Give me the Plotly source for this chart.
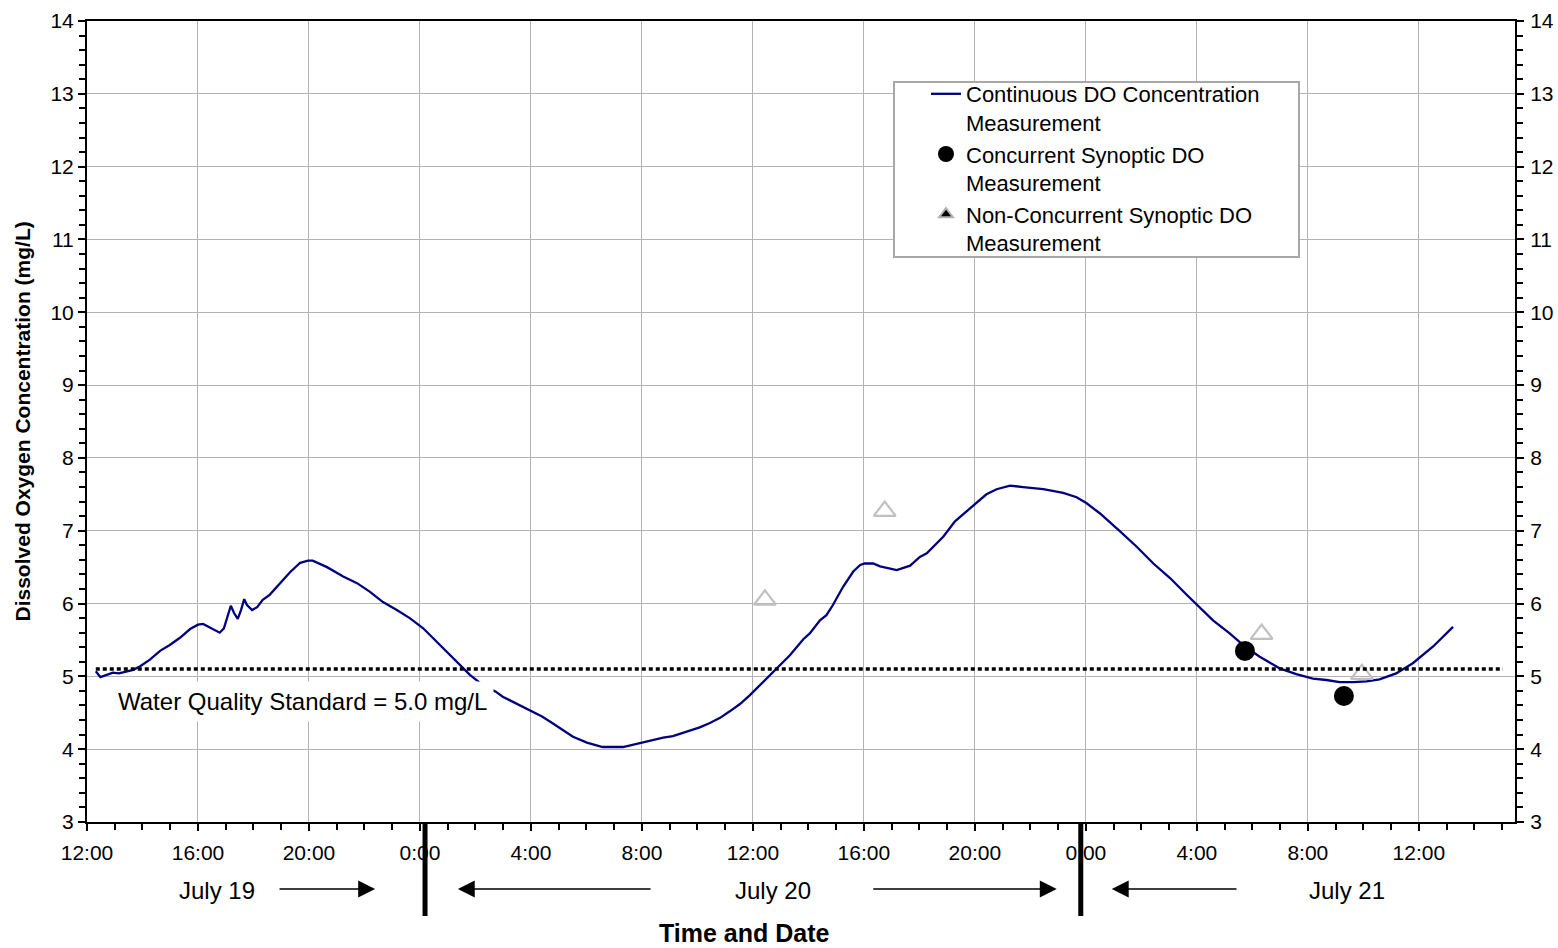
import plotly.graph_objects as go
from datetime import datetime

# ---------------- data ----------------
do_times = [
    "2007-07-19 12:19", "2007-07-19 12:29", "2007-07-19 12:56", "2007-07-19 13:09", "2007-07-19 13:40",
    "2007-07-19 13:55", "2007-07-19 14:16", "2007-07-19 14:38", "2007-07-19 14:59", "2007-07-19 15:21",
    "2007-07-19 15:43", "2007-07-19 16:00", "2007-07-19 16:11", "2007-07-19 16:30", "2007-07-19 16:47",
    "2007-07-19 16:56", "2007-07-19 17:03", "2007-07-19 17:11", "2007-07-19 17:18", "2007-07-19 17:26",
    "2007-07-19 17:33", "2007-07-19 17:40", "2007-07-19 17:46", "2007-07-19 17:57", "2007-07-19 18:08",
    "2007-07-19 18:20", "2007-07-19 18:35", "2007-07-19 18:57", "2007-07-19 19:19", "2007-07-19 19:41",
    "2007-07-19 19:58", "2007-07-19 20:08", "2007-07-19 20:39", "2007-07-19 21:14", "2007-07-19 21:44",
    "2007-07-19 22:12", "2007-07-19 22:40", "2007-07-19 23:10", "2007-07-19 23:38",
    "2007-07-20 00:07", "2007-07-20 00:43", "2007-07-20 01:20", "2007-07-20 01:48", "2007-07-20 02:16",
    "2007-07-20 02:44", "2007-07-20 02:59", "2007-07-20 03:21", "2007-07-20 03:43", "2007-07-20 04:02",
    "2007-07-20 04:24", "2007-07-20 04:46", "2007-07-20 05:07", "2007-07-20 05:31", "2007-07-20 06:01",
    "2007-07-20 06:35", "2007-07-20 07:19", "2007-07-20 07:45", "2007-07-20 08:17", "2007-07-20 08:46",
    "2007-07-20 09:07", "2007-07-20 09:37", "2007-07-20 10:05", "2007-07-20 10:27", "2007-07-20 10:49",
    "2007-07-20 11:10", "2007-07-20 11:32", "2007-07-20 11:53", "2007-07-20 12:15", "2007-07-20 12:37",
    "2007-07-20 12:52", "2007-07-20 13:20", "2007-07-20 13:49", "2007-07-20 14:03", "2007-07-20 14:25",
    "2007-07-20 14:39", "2007-07-20 14:53", "2007-07-20 15:15", "2007-07-20 15:37", "2007-07-20 15:52",
    "2007-07-20 16:02", "2007-07-20 16:20", "2007-07-20 16:35", "2007-07-20 16:53", "2007-07-20 17:11",
    "2007-07-20 17:40", "2007-07-20 18:01", "2007-07-20 18:16", "2007-07-20 18:52", "2007-07-20 19:17",
    "2007-07-20 19:56", "2007-07-20 20:25", "2007-07-20 20:47", "2007-07-20 21:16", "2007-07-20 21:44",
    "2007-07-20 22:28", "2007-07-20 23:11", "2007-07-20 23:40",
    "2007-07-21 00:01", "2007-07-21 00:30", "2007-07-21 01:14", "2007-07-21 01:50", "2007-07-21 02:26",
    "2007-07-21 03:02", "2007-07-21 03:38", "2007-07-21 04:07", "2007-07-21 04:35", "2007-07-21 05:11",
    "2007-07-21 05:44", "2007-07-21 06:16", "2007-07-21 06:59", "2007-07-21 07:35", "2007-07-21 08:11",
    "2007-07-21 08:40", "2007-07-21 09:09", "2007-07-21 09:38", "2007-07-21 10:07", "2007-07-21 10:35",
    "2007-07-21 11:11", "2007-07-21 11:47", "2007-07-21 12:31", "2007-07-21 13:14",
]
do_values = [
    5.07, 4.99, 5.05, 5.04, 5.09,
    5.14, 5.23, 5.35, 5.43, 5.53,
    5.65, 5.71, 5.72, 5.66, 5.60,
    5.66, 5.82, 5.97, 5.87, 5.79,
    5.91, 6.06, 5.98, 5.91, 5.95,
    6.05, 6.12, 6.28, 6.43, 6.56,
    6.59, 6.59, 6.50, 6.37, 6.28,
    6.16, 6.02, 5.91, 5.80,
    5.66, 5.43, 5.20, 5.02, 4.88,
    4.79, 4.72, 4.65, 4.57, 4.52,
    4.45, 4.36, 4.27, 4.17, 4.09,
    4.03, 4.03, 4.07, 4.11, 4.16,
    4.18, 4.24, 4.30, 4.36, 4.43,
    4.52, 4.62, 4.74, 4.88, 5.02,
    5.11, 5.29, 5.51, 5.59, 5.77,
    5.84, 5.98, 6.23, 6.44, 6.53,
    6.55, 6.55, 6.51, 6.48, 6.46,
    6.52, 6.64, 6.69, 6.92, 7.13,
    7.35, 7.50, 7.57, 7.62, 7.60,
    7.57, 7.52, 7.46,
    7.38, 7.24, 6.99, 6.78, 6.55,
    6.35, 6.12, 5.94, 5.77, 5.59,
    5.41, 5.27, 5.11, 5.03, 4.97,
    4.95, 4.92, 4.92, 4.93, 4.96,
    5.04, 5.18, 5.41, 5.68,
]

concurrent_times = ["2007-07-21 05:44", "2007-07-21 09:18"]
concurrent_values = [5.35, 4.73]

nonconcurrent_times = ["2007-07-20 12:26", "2007-07-20 16:45", "2007-07-21 06:20", "2007-07-21 09:57"]
nonconcurrent_values = [6.05, 7.27, 5.58, 5.03]

standard_times = ["2007-07-19 12:19", "2007-07-21 15:02"]
standard_values = [5.1, 5.1]

day_breaks = ["2007-07-20 00:11", "2007-07-20 23:49"]
day_labels = ["July 19", "July 20", "July 21"]
day_label_times = ["2007-07-19 16:41", "2007-07-20 12:43", "2007-07-21 09:25"]
# arrows: (tail, tip)
day_arrows = [
    ("2007-07-19 18:53", "2007-07-19 22:23"),
    ("2007-07-20 08:22", "2007-07-20 01:22"),
    ("2007-07-20 16:17", "2007-07-20 22:57"),
    ("2007-07-21 05:29", "2007-07-21 00:56"),
]

X_START = "2007-07-19 12:00"
X_END = "2007-07-21 15:28"
Y_RANGE = [3, 14]

# ---------------- layout constants ----------------
W, H = 1558, 948
ML, MR, MT, MB = 87, 43, 21, 126
PW, PH = W - ML - MR, H - MT - MB
FONT = "Liberation Sans, Arial, sans-serif"
GRID = "#b3b3b3"
NAVY = "#000080"


def to_dt(s):
    return datetime.strptime(s, "%Y-%m-%d %H:%M")


X0, X1 = to_dt(X_START), to_dt(X_END)


def xfrac(s):
    return (to_dt(s) - X0) / (X1 - X0)


def px_x(px):
    return (px - ML) / PW


def px_y(py):
    return (H - MB - py) / PH


fig = go.Figure()

fig.add_trace(go.Scatter(
    x=do_times, y=do_values, mode="lines",
    line=dict(color=NAVY, width=2.3),
    name="Continuous DO Concentration<br>Measurement",
))
fig.add_trace(go.Scatter(
    x=concurrent_times, y=concurrent_values, mode="markers",
    marker=dict(symbol="circle", size=20, color="black"),
    name="Concurrent Synoptic DO<br>Measurement",
))
fig.add_trace(go.Scatter(
    x=[None], y=[None], mode="markers",
    marker=dict(symbol="triangle-up", size=12, color="black",
                line=dict(color="#b0b0b0", width=2)),
    name="Non-Concurrent Synoptic DO<br>Measurement",
))
fig.add_trace(go.Scatter(
    x=nonconcurrent_times, y=nonconcurrent_values, mode="markers",
    marker=dict(symbol="triangle-up-open", size=19, color="#c0c0c0",
                line=dict(color="#c0c0c0", width=2.2)),
    showlegend=False,
))
fig.add_trace(go.Scatter(
    x=standard_times, y=standard_values, mode="lines",
    line=dict(color="black", width=3.5, dash="4px,3px"),
    showlegend=False, yaxis="y2",
))

shapes = []
# legend frame
shapes.append(dict(type="rect", xref="paper", yref="paper",
                   x0=px_x(894), x1=px_x(1299), y0=px_y(257), y1=px_y(82),
                   line=dict(color="#a8a8a8", width=2), fillcolor="white", layer="above"))
# day separators
for d in day_breaks:
    shapes.append(dict(type="line", xref="paper", yref="paper",
                       x0=xfrac(d), x1=xfrac(d), y0=0, y1=px_y(916),
                       line=dict(color="black", width=5)))

annotations = []
annotations.append(dict(
    text="Water Quality Standard = 5.0 mg/L", x="2007-07-19 19:46", y=4.66,
    xref="x", yref="y", xanchor="center", yanchor="middle",
    showarrow=False, bgcolor="white", borderpad=6,
    font=dict(size=24, color="black", family=FONT)))
for lab, t in zip(day_labels, day_label_times):
    annotations.append(dict(text=lab, x=t, y=px_y(890), xref="x", yref="paper",
                            xanchor="center", yanchor="middle",
                            showarrow=False, font=dict(size=24, color="black", family=FONT)))
for tail, tip in day_arrows:
    annotations.append(dict(text="", x=tip, y=px_y(889), xref="x", yref="paper",
                            ax=tail, ay=0, axref="x", ayref="pixel",
                            showarrow=True, arrowhead=2, arrowsize=2.6, arrowwidth=1.3,
                            arrowcolor="black", standoff=0, startstandoff=0))
annotations.append(dict(text="<b>Time and Date</b>", x=px_x(744), y=px_y(933),
                        xref="paper", yref="paper", xanchor="center", yanchor="middle",
                        showarrow=False, font=dict(size=25, color="black", family=FONT)))
annotations.append(dict(text="<b>Dissolved Oxygen Concentration (mg/L)</b>",
                        x=px_x(22), y=0.5, xref="paper", yref="paper", textangle=-90,
                        xanchor="center", yanchor="middle",
                        showarrow=False, font=dict(size=21, color="black", family=FONT)))

yaxis_common = dict(
    range=Y_RANGE, dtick=1, tick0=0, showline=True, linecolor="black", linewidth=2,
    ticks="outside", ticklen=7, tickwidth=1.5, tickcolor="black", zeroline=False,
    minor=dict(dtick=0.2, ticks="outside", ticklen=6, tickwidth=1.5, tickcolor="black", showgrid=False),
    tickfont=dict(size=21, color="black", family=FONT),
)

fig.update_layout(
    width=W, height=H,
    margin=dict(l=ML, r=MR, t=MT, b=MB, autoexpand=False),
    plot_bgcolor="white", paper_bgcolor="white",
    font=dict(family=FONT, size=21, color="black"),
    showlegend=True,
    legend=dict(x=px_x(926), y=px_y(73), xanchor="left", yanchor="top",
                bgcolor="rgba(0,0,0,0)", borderwidth=0, valign="top",
                font=dict(size=22, color="black", family=FONT)),
    xaxis=dict(
        type="date", range=[X_START, X_END], tick0=X_START, dtick=4 * 3600 * 1000,
        tickformat="%-H:%M", showgrid=True, gridcolor=GRID, gridwidth=1,
        showline=True, linecolor="black", linewidth=2, mirror=True,
        ticks="outside", ticklen=7, tickwidth=1.5, tickcolor="black", zeroline=False,
        ticklabelstandoff=4,
        minor=dict(dtick=3600 * 1000, ticks="outside", ticklen=6, tickwidth=1.5,
                   tickcolor="black", showgrid=False),
        tickfont=dict(size=21, color="black", family=FONT),
    ),
    yaxis=dict(showgrid=True, gridcolor=GRID, gridwidth=1, **yaxis_common),
    yaxis2=dict(overlaying="y", side="right", showgrid=False, ticklabelstandoff=2, **yaxis_common),
    shapes=shapes,
    annotations=annotations,
)

fig.write_html("out.html")
